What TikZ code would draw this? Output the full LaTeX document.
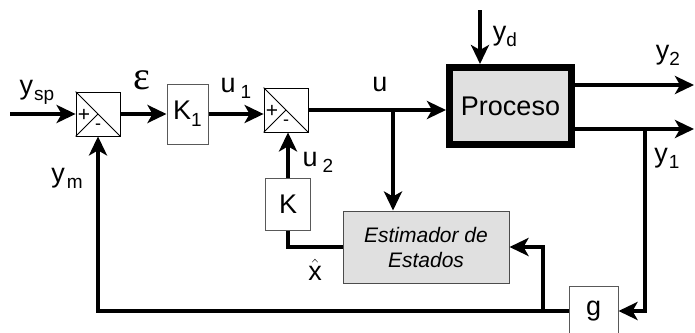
\documentclass[tikz,border=0pt]{standalone}
\usepackage{fontspec}
\setmainfont{Liberation Sans}
\newfontfamily\greekserif{Liberation Serif}
\usetikzlibrary{arrows.meta,calc}

% label with a lowered, smaller subscript
\newcommand{\sigsub}[3][2pt]{#2\kern#1\raisebox{-6pt}{\fontsize{19}{21}\selectfont #3}}

\begin{document}
\begin{tikzpicture}[x=1pt,y=-1pt,
  sig/.style={line width=4pt, -{Stealth[length=19pt,width=18pt,inset=5pt]}},
  wire/.style={line width=4pt},
  sumbox/.style={draw, line width=0.8pt, minimum width=44pt, minimum height=44pt, inner sep=0pt},
  gainbox/.style={draw=black!65, line width=1pt, inner sep=0pt, font=\fontsize{27}{30}\selectfont},
  lbl/.style={inner sep=0pt, font=\fontsize{27}{30}\selectfont},
  sgn/.style={inner sep=0pt, font=\fontsize{21}{22}\selectfont},
  ]
\useasboundingbox (0,0) rectangle (695,332);

% blocks
\node[sumbox] (s1) at (98,114) {};
\node[gainbox, minimum width=41pt, minimum height=60pt] (k1) at (187.5,114) {K\raisebox{-7pt}{\fontsize{19}{21}\selectfont 1}};
\node[sumbox] (s2) at (286,110) {};
\node[draw, line width=7pt, fill=black!12, minimum width=122pt, minimum height=77pt,
      inner sep=0pt, font=\fontsize{27}{30}\selectfont] (proc) at (510.5,106) {Proceso};
\node[gainbox, minimum width=45pt, minimum height=52pt] (k) at (288,204) {K};
\node[draw=black!70, line width=1pt, fill=black!12, minimum width=166pt, minimum height=72pt,
      inner sep=0pt, align=center, font=\itshape\fontsize{21}{25}\selectfont] (est) at (426,247)
      {Estimador de\\Estados};
\node[gainbox, minimum width=49pt, minimum height=50pt] (g) at (593.5,311) {g};

% summing junction details
\foreach \s in {s1,s2}{
  \draw[line width=0.8pt] (\s.north west) -- (\s.south east);
  \draw[line width=0.8pt] (\s.south west) -- (\s.center);
  \node[sgn] at ($(\s.center)+(-14,1)$) {+};
  \node[sgn, font=\fontsize{18}{20}\selectfont] at ($(\s.center)+(0,13)$) {-};
}

% free ends and branch points
\coordinate (in) at (10,114);
\coordinate (dist) at (480,10);
\coordinate (o2) at (694,85);
\coordinate (o1) at (694,129);
\coordinate (bu) at (393,110);
\coordinate (b1) at (645,129);
\coordinate (b2) at (543,311);

% signal paths
\draw[sig] (in) -- (s1.west);
\draw[sig] (s1.east) -- (s1.east -| k1.west);
\draw[sig] (k1.east) -- (k1.east -| s2.west);
\draw[sig] (s2.east) -- (s2.east -| proc.west);
\draw[sig] (dist) -- (dist |- proc.north);
\draw[sig] (proc.east |- o2) -- (o2);
\draw[sig] (proc.east |- o1) -- (o1);
\draw[sig] (b1) |- (g.east);
\draw[sig] (g.west) -| (s1.south);
\draw[sig] (b2) |- (est.east);
\draw[sig] (bu) -- (bu |- est.north);
\draw[sig] (k.north) -- (k.north |- s2.south);
\draw[wire] (k.south) |- (est.west);

% labels
\node[lbl] at (37,92) {\sigsub[1pt]{y}{sp}};
\node[inner sep=0pt, font=\greekserif\fontsize{40}{42}\selectfont] at (142,80) {ε};
\node[lbl] at (236,88) {\sigsub[5pt]{u}{1}};
\node[lbl] at (380,84) {u};
\node[lbl] at (318,162) {\sigsub[5pt]{u}{2}};
\node[lbl] at (67,178) {\sigsub[2pt]{y}{m}};
\node[lbl] at (505,36) {\sigsub[0pt]{y}{d}};
\node[lbl] at (668,55) {\sigsub[0pt]{y}{2}};
\node[lbl] at (667,158) {\sigsub[1pt]{y}{1}};
\node[lbl] at (315,270) {$\hat{\mbox{x}}$};
\end{tikzpicture}
\end{document}
